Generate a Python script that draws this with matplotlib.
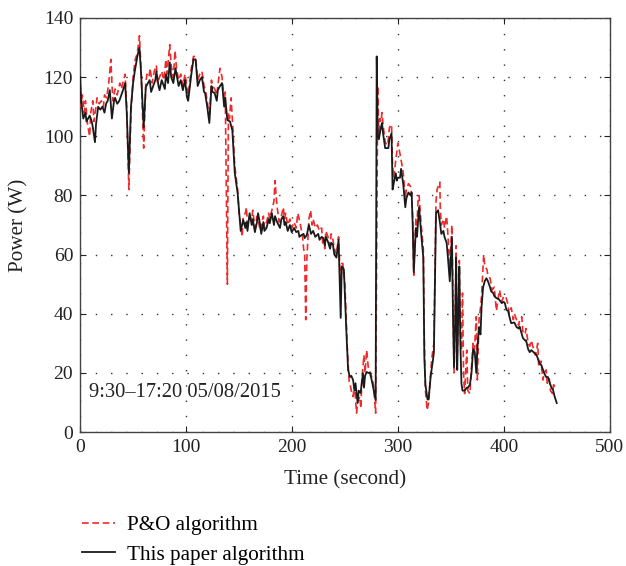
import matplotlib
matplotlib.use("Agg")
import matplotlib.pyplot as plt
from matplotlib.lines import Line2D

plt.rcParams['font.family'] = ['Liberation Serif', 'DejaVu Serif']

# ---- data: "This paper algorithm" (black) ----
t_black = [0, 1, 3, 5, 6, 9, 11, 12, 14, 15, 17, 19, 21, 23, 24.5, 26, 28, 30, 32, 33, 35, 37, 39, 40.5,
           42.5, 44, 46, 48, 50, 51.6, 54, 56, 57.6, 60, 62, 64, 65.7, 67, 69, 71, 72, 74, 75, 77, 78, 80,
           81, 83, 84.6, 86, 88, 90, 91, 93, 95, 97, 99, 101, 102, 104, 105, 107, 109, 111, 113, 115, 117,
           118, 120, 122, 124, 125, 127, 129, 130, 132, 134, 136, 137, 139, 141.5, 143.7, 146, 148.7,
           151.6, 154, 156, 157, 158, 160, 162, 163, 165, 167, 168, 170, 171, 173, 174, 176, 178, 179, 181,
           183, 184, 186, 188.7, 190, 191.8, 193, 194, 196, 198, 199.7, 202, 204, 206, 207, 209, 211, 212,
           214, 216, 218, 220, 222, 224.8, 226, 228, 229.6, 231, 232, 234, 236, 237, 238.7, 240, 242, 244,
           246, 247, 249, 251.6, 253, 254.7, 256, 257.7, 259, 260, 262, 263, 264.8, 266, 267, 268, 269,
           270.5, 272, 273.6, 275, 276.6, 279, 280, 281, 282, 284, 285, 286, 288, 290, 291, 292, 294, 295,
           296, 298, 299, 300, 302, 303, 305, 307, 308, 310, 312, 313, 314, 315, 317, 318, 320, 322, 324,
           325, 326, 328, 329, 331, 333, 334, 336, 338, 340, 341, 343, 344, 346, 347, 349, 351, 352, 353,
           354, 355, 356, 357, 358, 359, 360, 361, 363, 365, 366, 368, 369.5, 371, 372.6, 374, 375, 376.6,
           378, 379, 380.5, 382, 383.6, 385, 387, 388, 390, 391, 393, 395, 396, 398, 400, 401, 402.5, 404,
           406, 407, 409, 410, 412, 414, 415, 418, 420, 421, 423, 424.5, 426, 428, 431, 433, 434, 435.5,
           438, 440, 441.6, 443, 445, 446.5, 448, 450]
p_black = [120, 112, 106, 108, 105, 107, 105, 103, 98, 104, 110, 109, 110, 108, 111, 112, 115.6, 106, 112,
           113, 111, 112, 114, 115.6, 118, 108, 87.6, 110, 118, 122, 127, 130, 121, 103, 116.6, 118, 119,
           115, 117, 119, 122, 117, 115.6, 119, 118, 116, 121, 118, 125, 120, 118, 123, 121, 117, 119,
           115.6, 119, 113, 112, 118, 121, 126, 126, 117, 119, 120, 115, 114.6, 110, 104.5, 117, 115,
           114.6, 112, 115.6, 117, 118, 110, 113, 105.5, 105, 102, 87.6, 80.8, 68, 71.7, 69, 71, 68, 74,
           70, 72, 67.6, 71, 74, 70, 67, 71, 68, 69, 72, 70.6, 74, 70, 73, 71, 69, 72, 73, 70, 71, 68, 70,
           67.6, 69, 67.6, 68, 66, 66.6, 67, 65.6, 66.6, 70, 67, 68, 66, 67, 65, 66, 65.6, 63, 66, 64.3,
           62, 64, 63.3, 60, 59, 65, 38.6, 56, 55, 32, 21, 18.6, 19, 17.6, 14, 16.5, 9.8, 14, 13.2, 17,
           19.9, 15, 19, 20.3, 20, 20, 18, 15.2, 10.8, 127, 100, 99, 103, 104.5, 101, 96, 96, 96, 99, 101,
           82, 84, 87.5, 85, 86, 86, 89, 84, 76, 79, 81, 80, 81, 70, 54, 69, 66, 76, 67, 59, 25, 16, 11,
           11, 19, 24, 27, 74, 75, 70, 67, 68, 66, 64, 60, 51, 66, 40, 22, 35, 59, 21, 40, 56, 30, 16.5,
           14, 14, 15, 15, 16, 20, 28, 27, 20, 28, 35.5, 33, 42.3, 49, 51, 52, 51, 49, 47.6, 47, 46, 45.3,
           45, 44.6, 43.6, 44, 43.6, 41.3, 41, 38, 36.8, 37, 37, 35.5, 35, 35.6, 31.8, 31, 31, 28, 27,
           27.7, 27, 26, 24, 23, 22.6, 20, 18.6, 18.6, 17, 15, 14.2, 12, 9.8]

# ---- data: "P&O algorithm" (red dashed) ----
t_red = [0, 1, 2, 4, 5, 7, 9, 10, 12, 13, 15, 16, 18, 20, 22, 23, 25, 27, 29, 30, 31, 33, 35, 37.5, 39,
         41, 42.5, 44, 46, 48, 50, 52, 54, 56, 57.6, 60, 62, 63, 65, 66, 68, 70, 72, 73, 75, 77, 79, 81,
         82, 84.6, 86, 88, 89.6, 91, 93, 95, 97, 99, 101, 102, 104, 105, 107, 109, 111, 113, 115, 117,
         118, 120, 122, 124, 125, 127, 129, 130, 132, 134, 136, 137, 139, 140, 141, 142.5, 144, 146,
         148.7, 150, 151.6, 153, 154, 156, 157, 158, 160, 162, 163, 165, 167, 168, 170, 171, 173, 174,
         176, 178, 179, 181, 183, 184, 185, 186, 188, 190, 191.8, 193, 194, 196, 198, 199.7, 202, 204,
         205.5, 207.5, 209, 210, 211, 212, 213, 214, 215, 216, 217.6, 219, 220, 222, 224, 226, 228, 229,
         231, 232, 234, 236, 237, 238.7, 240, 242, 244, 246, 247, 248, 250, 252, 254, 254.7, 256, 257.7,
         259, 261, 262, 264, 265, 266, 267, 268, 269, 270.5, 272, 274, 275, 277, 279, 281, 282, 283,
         284, 285, 286, 288, 290, 291, 292, 294, 295, 296, 298, 300, 301, 302, 303, 305, 307, 308, 310,
         312, 313, 314, 315, 317, 318, 319, 320, 322, 324, 325, 326, 327.6, 329, 331, 332, 334, 336,
         337, 339.6, 340, 341, 343, 344, 346, 347, 349, 351, 352, 353, 354, 355, 356, 357, 358, 359,
         360, 361, 362, 363, 365, 366, 368, 369.5, 371, 372, 374, 375, 376.6, 378, 379, 381, 382, 384,
         385, 387, 389, 391, 393, 395, 396, 398, 400, 402, 404, 405, 407, 409, 410, 412, 414, 415, 417,
         418, 420, 421, 423, 424.5, 426, 428, 430, 432, 433, 435, 437, 438, 440, 441, 443, 444, 446,
         447, 449]
p_red = [118, 110, 114, 108, 112, 104, 100, 108, 112, 105, 110, 113, 111, 112, 110, 114, 113, 118, 126,
         118, 112, 116, 114, 118, 116, 119, 121, 110, 82, 108, 120, 126, 128, 134, 122, 96, 118, 121, 120,
         123, 118, 122, 124, 118, 120, 122, 119, 126, 121, 131, 124, 120, 129, 123, 119, 121, 117, 121,
         116, 114, 120, 123, 127, 127, 119, 121, 122, 117, 116, 112, 106, 119, 117, 116, 114, 117, 123,
         120, 112, 115, 50, 108, 106, 113, 104, 90, 82, 74, 70, 66, 73, 74, 76, 70, 73, 72, 75, 69, 73,
         72, 68, 70, 73, 69, 71, 74, 72, 75, 78, 85, 80, 76, 71, 73, 76, 72, 74, 70, 72, 69, 71, 69, 74,
         71, 68, 66, 62, 60, 38, 58, 65, 72, 75, 70, 72, 69, 70, 68, 69, 64, 62, 68, 66, 63, 67, 65, 62,
         60, 66, 48, 57, 57, 50, 30, 17, 16.5, 14, 12, 16, 6.4, 10, 12, 8, 18, 22, 26, 20, 27.7, 22, 20,
         19, 16, 6.4, 117, 100, 106, 105, 108, 104, 98, 97, 99, 103, 104, 90, 86, 92, 97.7, 96, 94, 92,
         88, 79, 82, 84, 83, 80, 72, 53, 72, 70, 78, 80, 70, 62, 30, 14, 7.4, 10, 20, 25, 30, 78, 82,
         84.5, 76, 70, 72, 69, 73, 68, 56, 70, 45, 20, 38, 63, 24, 42, 58, 33, 27.7, 47, 20, 13, 27.7,
         14, 13, 22, 30, 26, 39, 17.6, 38, 42, 46, 60, 56, 55, 53, 52, 48, 49, 41, 46, 48, 44, 46, 45.7,
         43, 40, 42, 38, 40, 38, 36, 38, 39, 34, 33, 35, 30, 29, 31, 28, 26, 30, 22, 24, 17.6, 20, 21,
         16.5, 18, 14, 13, 16, 15]

x_ticks = [0, 100, 200, 300, 400, 500]
y_ticks = [0, 20, 40, 60, 80, 100, 120, 140]
label_red = "P&O algorithm"
label_black = "This paper algorithm"
annotation = "9:30\u201317:20 05/08/2015"

fig = plt.figure(figsize=(6.26, 5.66), dpi=100)
ax = fig.add_axes([0.128, 0.2367, 0.846, 0.7315])

ax.plot(t_red, p_red, color='#ee2a2a', linestyle=(0, (4, 2.2)), linewidth=1.2, zorder=3)
ax.plot(t_black, p_black, color='#1a1a1a', linestyle='-', linewidth=1.3, zorder=4)

ax.set_xlim(0, 500)
ax.set_ylim(0, 140)
ax.set_xticks(x_ticks)
ax.set_yticks(y_ticks)
ax.grid(True, color='#333333', linestyle=(0, (1, 10)), linewidth=1.0)
ax.tick_params(direction='in', length=4, labelsize=14, colors='#222222',
               top=True, right=True, pad=5)
for s in ax.spines.values():
    s.set_color('#444444')
    s.set_linewidth(1.0)

ax.set_xlabel("Time (second)", fontsize=15.2, color='#222222', labelpad=10)
ax.set_ylabel("Power (W)", fontsize=15.2, color='#222222', labelpad=11)
ax.text(8, 13.5, annotation, fontsize=14.8, color='#222222', va='center', ha='left')

handles = [Line2D([], [], color='#ee2a2a', linestyle=(0, (4, 2.2)), linewidth=1.2),
           Line2D([], [], color='#1a1a1a', linestyle='-', linewidth=1.3)]
fig.legend(handles, [label_red, label_black], loc='upper left',
           bbox_to_anchor=(0.117, 0.104), frameon=False, fontsize=15.2,
           handlelength=1.6, labelspacing=0.45, handletextpad=0.55, borderaxespad=0)

fig.savefig("out.png", dpi=100)
